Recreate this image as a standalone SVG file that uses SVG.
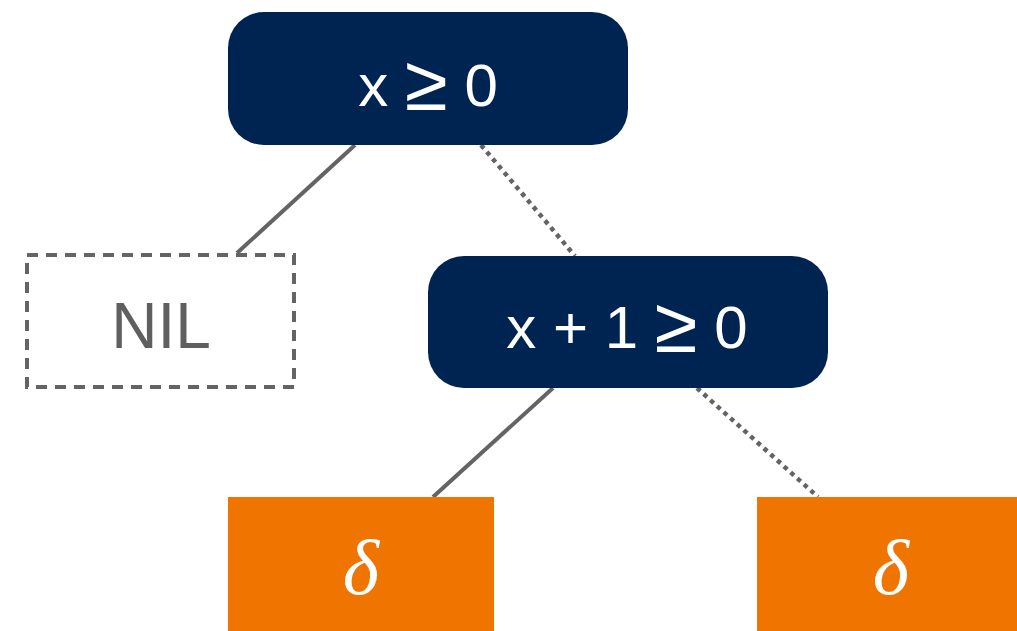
<svg xmlns="http://www.w3.org/2000/svg" width="1017" height="631" viewBox="0 0 1017 631">
<style>
.dec{fill:#002451}
.leaf{fill:#F07400}
.nil{fill:#ffffff;stroke:#646464;stroke-width:4;stroke-dasharray:11 8}
.t{font-family:"Liberation Sans",Arial,sans-serif;font-size:60px;fill:#ffffff;text-anchor:middle}
.ge{font-size:78px}
.nt{font-family:"Liberation Sans",Arial,sans-serif;font-size:64px;fill:#5f5f5f;text-anchor:middle}
.d{font-family:"Liberation Serif","Times New Roman",serif;font-style:italic;font-size:78px;fill:#ffffff;text-anchor:middle}
.solid{stroke:#646464;stroke-width:4;fill:none}
.dot{stroke:#646464;stroke-width:4.5;fill:none;stroke-dasharray:4.5 4.5}
</style>
<g id="connectors">
<line class="solid" x1="355" y1="145" x2="237" y2="253"/>
<line class="dot" x1="481" y1="145" x2="575" y2="256"/>
<line class="solid" x1="553" y1="388" x2="433" y2="497"/>
<line class="dot" x1="697" y1="388" x2="818" y2="497"/>
</g>
<g id="root">
<rect class="dec" x="228" y="12" width="400" height="133" rx="36"/>
<text class="t" x="428" y="106">x <tspan class="ge" dy="4">≥</tspan><tspan dy="-4"> 0</tspan></text>
</g>
<g id="nil">
<rect class="nil" x="27" y="255" width="267" height="132"/>
<text class="nt" x="161" y="348">NIL</text>
</g>
<g id="inner">
<rect class="dec" x="428" y="256" width="400" height="132" rx="36"/>
<text class="t" x="627" y="348">x + 1 <tspan class="ge" dy="4">≥</tspan><tspan dy="-4"> 0</tspan></text>
</g>
<g id="leaf-left">
<rect class="leaf" x="228" y="497" width="266" height="134"/>
<text class="d" x="361" y="594">δ</text>
</g>
<g id="leaf-right">
<rect class="leaf" x="757" y="497" width="260" height="134"/>
<text class="d" x="891" y="594">δ</text>
</g>
</svg>
